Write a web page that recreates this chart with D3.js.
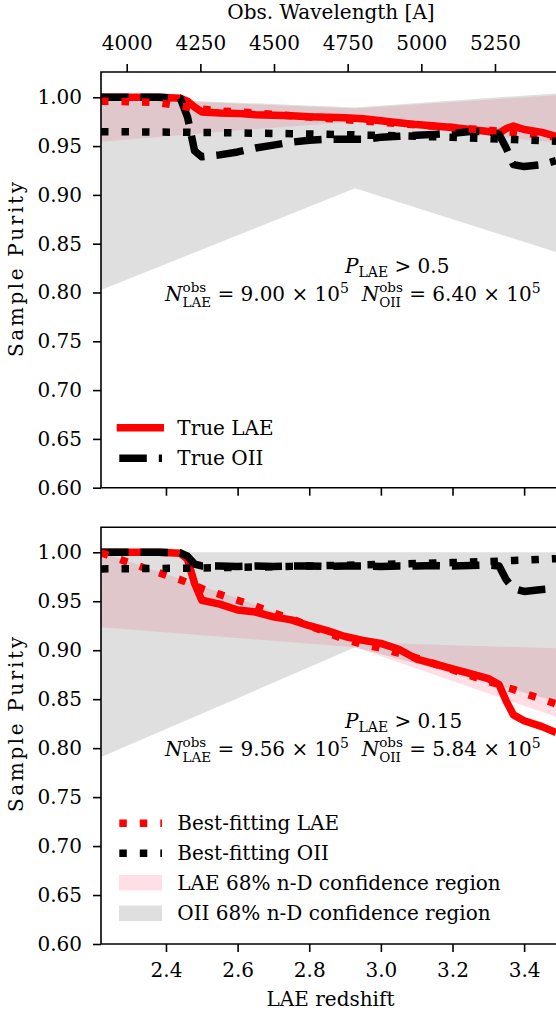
<!DOCTYPE html>
<html><head><meta charset="utf-8">
<script src="https://cdn.jsdelivr.net/npm/d3@7"></script>
<style>
body{margin:0;background:#fff}
svg{display:block}
text{font-family:"DejaVu Serif",serif;fill:#000}
</style>
</head><body><svg id="c" width="556" height="1013"></svg>
<script>
// ---------- data ----------
const zGrid = [2.2186, 2.30, 2.38, 2.44, 2.46, 2.48, 2.50, 2.55, 2.60, 2.65, 2.70, 2.75, 2.80, 2.85, 2.90, 2.95, 3.00, 3.05, 3.10, 3.15, 3.20, 3.25, 3.30, 3.33, 3.35, 3.37, 3.40, 3.45, 3.489];

// top panel  (P_LAE > 0.5)
const topTrueLAE = [1.000,1.000,1.000,0.999,0.996,0.990,0.985,0.984,0.9835,0.982,0.9815,0.981,0.980,0.9795,0.979,0.978,0.976,0.974,0.972,0.9705,0.969,0.967,0.965,0.963,0.968,0.9705,0.967,0.964,0.960];
const topTrueOII = [1.000,1.000,1.000,0.999,0.980,0.945,0.939,0.941,0.944,0.948,0.951,0.954,0.956,0.957,0.957,0.957,0.959,0.960,0.961,0.962,0.963,0.965,0.965,0.962,0.948,0.931,0.929,0.931,0.935];
const topBestLAE = [0.996,0.9955,0.9945,0.991,0.990,0.989,0.988,0.986,0.985,0.9838,0.9825,0.981,0.9797,0.9783,0.977,0.9757,0.9744,0.973,0.9717,0.9703,0.969,0.9676,0.9662,0.9654,0.9648,0.9642,0.9632,0.9615,0.959];
const topBestOII = [0.9648,0.9646,0.9644,0.9642,0.9641,0.964,0.964,0.9638,0.9635,0.9632,0.963,0.9627,0.9624,0.962,0.9617,0.9613,0.961,0.9605,0.960,0.9595,0.959,0.9583,0.9577,0.9572,0.957,0.9567,0.9562,0.9555,0.955];

// bottom panel (P_LAE > 0.15)
const botTrueLAE = [1.000,1.000,1.000,0.999,0.993,0.968,0.951,0.947,0.941,0.939,0.934,0.931,0.925,0.920,0.914,0.910,0.907,0.901,0.891,0.886,0.881,0.876,0.871,0.865,0.848,0.834,0.828,0.822,0.816];
const botTrueOII = [1.000,1.000,1.000,0.9995,0.996,0.988,0.986,0.986,0.9855,0.986,0.9855,0.986,0.986,0.9855,0.986,0.986,0.9855,0.986,0.986,0.9865,0.986,0.9865,0.987,0.986,0.972,0.963,0.960,0.962,0.963];
const botBestLAE = [0.9995,0.989,0.979,0.972,0.969,0.966,0.963,0.957,0.951,0.945,0.938,0.932,0.925,0.918,0.911,0.906,0.902,0.897,0.892,0.886,0.880,0.874,0.868,0.865,0.862,0.860,0.856,0.850,0.845];
const botBestOII = [0.983,0.9832,0.9835,0.9837,0.9838,0.9839,0.984,0.9843,0.9846,0.9849,0.9852,0.9856,0.986,0.9864,0.9868,0.9872,0.9876,0.988,0.9885,0.989,0.9895,0.990,0.9906,0.991,0.9913,0.9916,0.992,0.9928,0.9935];

// 68% confidence regions (edges read at a few redshifts)
const bandZ = [2.2186, 2.60, 2.928, 3.489];
const topPinkUpper = [0.999, 0.9934, 0.9885, 1.002];
const topPinkLower = [0.9545, 0.966, 0.975, 0.9535];
const topGrayUpper = [1.000, 0.9945, 0.9895, 1.004];
const topGrayLower = [0.8026, 0.8586, 0.9068, 0.8415];
const botPinkUpper = [1.000, 0.953, 0.908, 0.902];
const botPinkLower = [0.9235, 0.9125, 0.903, 0.832];
const botGrayUpper = [1.000, 1.000, 1.000, 1.000];
const botGrayLower = [0.791, 0.851, 0.903, 0.848];

const xTicks = [2.4, 2.6, 2.8, 3.0, 3.2, 3.4];
const yTicks = [0.60, 0.65, 0.70, 0.75, 0.80, 0.85, 0.90, 0.95, 1.00];
const wTicks = [4000, 4250, 4500, 4750, 5000, 5250];
const LYA = 1215.67;
const zDomain = [2.2186, 3.489];
const yDomainTop = [0.6, 1.0259];
const yDomainBot = [0.6, 1.0255];

// ---------- layout ----------
const L = 101, R = 556;
const panels = [
  {top: 72, bottom: 487.7, yd: yDomainTop,
   lines: [topTrueLAE, topTrueOII, topBestLAE, topBestOII],
   pink: [topPinkUpper, topPinkLower], gray: [topGrayUpper, topGrayLower],
   ann: {p: '0.5', nl: '9.00', no: '6.40'}, labelY: 269.5},
  {top: 527.3, bottom: 944, yd: yDomainBot,
   lines: [botTrueLAE, botTrueOII, botBestLAE, botBestOII],
   pink: [botPinkUpper, botPinkLower], gray: [botGrayUpper, botGrayLower],
   ann: {p: '0.15', nl: '9.56', no: '5.84'}, labelY: 724.5}
];

const svg = d3.select('#c');
const x = d3.scaleLinear().domain(zDomain).range([L, R]);
const xw = d3.scaleLinear().domain([LYA * (1 + zDomain[0]), LYA * (1 + zDomain[1])]).range([L, R]);

const LW = 7.5;
const styles = [
  {color: '#ff0000', dash: null},
  {color: '#000000', dash: '27.5,12'},
  {color: '#ff0000', dash: '7.5,13'},
  {color: '#000000', dash: '7.5,13'}
];

function styleAxis(g) {
  g.select('.domain').remove();
  g.attr('font-family', null).attr('font-size', null);
  g.selectAll('line').attr('stroke', '#000').attr('stroke-width', 1.6);
  g.selectAll('text').style('font-family', '"DejaVu Serif", serif').style('font-size', '20px').attr('fill', '#000');
}

// one <text> per annotation block; tspans laid out by measuring
function mathBlock(g, lines) {
  const t = g.append('text');
  lines.forEach(ln => {
    let cx = ln.x;
    ln.segs.forEach(s => {
      const parts = s.stack || [s];
      let w = 0;
      parts.forEach(p => {
        const ts = t.append('tspan').attr('x', cx).attr('y', ln.y + (p.dy || 0))
          .style('font-size', (p.size || 20) + 'px').style('font-style', p.it ? 'italic' : 'normal').text(p.t);
        w = Math.max(w, ts.node().getComputedTextLength());
      });
      cx += w;
    });
  });
}

const NB = '\u00a0';

panels.forEach((P, pi) => {
  const y = d3.scaleLinear().domain(P.yd).range([P.bottom, P.top]);
  const clipId = 'clip' + pi;
  svg.append('clipPath').attr('id', clipId).append('rect')
    .attr('x', L).attr('y', P.top).attr('width', R - L + 10).attr('height', P.bottom - P.top);
  const plot = svg.append('g').attr('clip-path', `url(#${clipId})`);

  const area = (up, lo) => d3.area().x((d, i) => x(bandZ[i])).y0((d, i) => y(lo[i])).y1((d, i) => y(up[i]))(bandZ);
  plot.append('path').attr('d', area(P.pink[0], P.pink[1])).attr('fill', '#ffc0cb').attr('fill-opacity', 0.5);
  plot.append('path').attr('d', area(P.gray[0], P.gray[1])).attr('fill', '#808080').attr('fill-opacity', 0.25);

  const line = d3.line().x((d, i) => x(zGrid[i])).y(d => y(d));
  [0, 1, 2, 3].forEach(k => {
    const st = styles[k];
    const p = plot.append('path').attr('d', line(P.lines[k])).attr('fill', 'none')
      .attr('stroke', st.color).attr('stroke-width', LW).attr('stroke-linejoin', 'round').attr('stroke-linecap', 'butt');
    if (st.dash) p.attr('stroke-dasharray', st.dash);
  });

  const ya = svg.append('g').attr('transform', `translate(${L},0)`)
    .call(d3.axisLeft(y).tickValues(yTicks).tickFormat(d3.format('.2f')).tickSize(8).tickPadding(11));
  styleAxis(ya);
  const xa = svg.append('g').attr('transform', `translate(0,${P.bottom})`)
    .call(d3.axisBottom(x).tickValues(xTicks).tickFormat(pi === 1 ? d3.format('.1f') : () => '').tickSize(8).tickPadding(11));
  styleAxis(xa);
  if (pi === 0) {
    const wa = svg.append('g').attr('transform', `translate(0,${P.top})`)
      .call(d3.axisTop(xw).tickValues(wTicks).tickFormat(d3.format('d')).tickSize(8).tickPadding(14));
    styleAxis(wa);
  }
  svg.append('path').attr('d', `M${R + 2},${P.top}H${L}V${P.bottom}H${R + 2}`)
    .attr('fill', 'none').attr('stroke', '#000').attr('stroke-width', 1.6);

  svg.append('text').attr('transform', `translate(23,${P.labelY}) rotate(-90)`).attr('text-anchor', 'middle')
    .attr('textLength', 175).attr('lengthAdjust', 'spacing')
    .style('font-size', '20px').text('Sample Purity');

  const off = pi === 0 ? 0 : 455;
  mathBlock(svg.append('g'), [
    {x: 345, y: 273 + off, segs: [
      {t: 'P', it: true},
      {t: 'LAE', size: 14, dy: 4},
      {t: NB + '>' + NB + P.ann.p}
    ]},
    {x: 165, y: 301 + off, segs: [
      {t: 'N', it: true},
      {stack: [{t: 'obs', size: 13.5, dy: -9}, {t: 'LAE', size: 13.5, dy: 6}]},
      {t: NB + '=' + NB + P.ann.nl + NB + '\u00d7' + NB + '10'},
      {t: '5', size: 14, dy: -8},
      {t: NB + NB},
      {t: 'N', it: true},
      {stack: [{t: 'obs', size: 13.5, dy: -9}, {t: 'OII', size: 13.5, dy: 6}]},
      {t: NB + '=' + NB + P.ann.no + NB + '\u00d7' + NB + '10'},
      {t: '5', size: 14, dy: -8}
    ]}
  ]);
});

svg.append('text').attr('x', 331).attr('y', 18.5).attr('text-anchor', 'middle').style('font-size', '20px').text('Obs. Wavelength [A]');
svg.append('text').attr('x', 330.5).attr('y', 1006).attr('text-anchor', 'middle').style('font-size', '20px').text('LAE redshift');

const legTop = [
  {label: 'True LAE', s: 0, y: 427.7},
  {label: 'True OII', s: 1, y: 458.3}
];
const legBot = [
  {label: 'Best-fitting LAE', s: 2, y: 823.3},
  {label: 'Best-fitting OII', s: 3, y: 853.3},
  {label: 'LAE 68% n-D confidence region', patch: ['#ffc0cb', 0.5], y: 882.7},
  {label: 'OII 68% n-D confidence region', patch: ['#808080', 0.25], y: 913.3}
];
[...legTop, ...legBot].forEach(e => {
  if (e.patch) {
    svg.append('rect').attr('x', 119).attr('y', e.y - 7.8).attr('width', 43).attr('height', 15.6)
      .attr('fill', e.patch[0]).attr('fill-opacity', e.patch[1]);
  } else {
    const st = styles[e.s];
    const p = svg.append('line').attr('x1', st.dash ? 119.3 : 116.7).attr('x2', st.dash ? 162 : 164).attr('y1', e.y).attr('y2', e.y)
      .attr('stroke', st.color).attr('stroke-width', LW).attr('stroke-linecap', 'butt');
    if (st.dash) p.attr('stroke-dasharray', st.dash);
  }
  svg.append('text').attr('x', 177.3).attr('y', e.y + 7).style('font-size', '20px').text(e.label);
});
</script>
</body></html>
